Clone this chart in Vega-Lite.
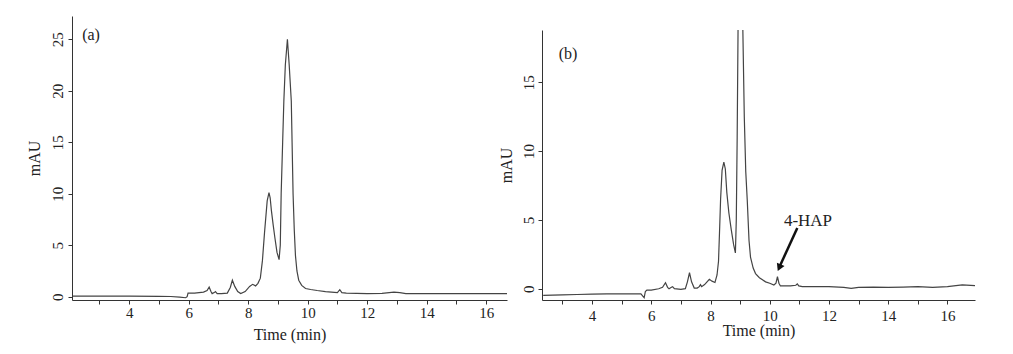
{
  "$schema": "https://vega.github.io/schema/vega-lite/v6.json",
  "background": "white",
  "padding": {"left": 25, "top": 16, "right": 5, "bottom": 5},
  "spacing": -9,
  "config": {
    "view": {"stroke": null},
    "font": "Liberation Serif",
    "axis": {
      "grid": false,
      "domainColor": "#333333",
      "tickColor": "#333333",
      "labelColor": "#222222",
      "titleColor": "#222222",
      "labelFont": "Liberation Serif",
      "titleFont": "Liberation Serif",
      "labelFontSize": 15,
      "titleFontSize": 16,
      "titleFontWeight": "normal",
      "tickSize": 4,
      "labelFlush": false
    }
  },
  "datasets": {
    "a": [
      {"t": 2.1, "v": 0.05}, {"t": 3.0, "v": 0.05}, {"t": 4.0, "v": 0.05}, {"t": 5.0, "v": 0.04},
      {"t": 5.4, "v": 0.02}, {"t": 5.7, "v": -0.05}, {"t": 5.9, "v": -0.1}, {"t": 5.95, "v": 0.0},
      {"t": 5.98, "v": 0.35}, {"t": 6.2, "v": 0.35}, {"t": 6.5, "v": 0.45}, {"t": 6.62, "v": 0.6},
      {"t": 6.69, "v": 0.94}, {"t": 6.75, "v": 0.5}, {"t": 6.79, "v": 0.3}, {"t": 6.86, "v": 0.4},
      {"t": 6.9, "v": 0.5}, {"t": 6.96, "v": 0.3}, {"t": 7.1, "v": 0.3}, {"t": 7.3, "v": 0.35},
      {"t": 7.4, "v": 0.9}, {"t": 7.47, "v": 1.6}, {"t": 7.55, "v": 1.0}, {"t": 7.65, "v": 0.5},
      {"t": 7.75, "v": 0.3}, {"t": 7.9, "v": 0.5}, {"t": 8.05, "v": 1.0}, {"t": 8.15, "v": 1.2},
      {"t": 8.25, "v": 1.05}, {"t": 8.33, "v": 1.3}, {"t": 8.41, "v": 1.8}, {"t": 8.48, "v": 3.5},
      {"t": 8.55, "v": 6.2}, {"t": 8.64, "v": 9.3}, {"t": 8.7, "v": 10.1}, {"t": 8.74, "v": 9.6},
      {"t": 8.78, "v": 8.4}, {"t": 8.84, "v": 7.0}, {"t": 8.9, "v": 5.7}, {"t": 8.97, "v": 4.3},
      {"t": 9.04, "v": 3.6}, {"t": 9.08, "v": 5.0}, {"t": 9.11, "v": 10.0}, {"t": 9.16, "v": 15.0},
      {"t": 9.2, "v": 19.0}, {"t": 9.25, "v": 22.5}, {"t": 9.32, "v": 25.0}, {"t": 9.38, "v": 22.5},
      {"t": 9.45, "v": 19.0}, {"t": 9.48, "v": 14.5}, {"t": 9.51, "v": 10.0}, {"t": 9.55, "v": 6.5},
      {"t": 9.59, "v": 4.0}, {"t": 9.64, "v": 2.5}, {"t": 9.7, "v": 1.6}, {"t": 9.8, "v": 1.1},
      {"t": 9.93, "v": 0.8}, {"t": 10.1, "v": 0.7}, {"t": 10.32, "v": 0.6}, {"t": 10.6, "v": 0.5},
      {"t": 10.8, "v": 0.45}, {"t": 11.0, "v": 0.4}, {"t": 11.08, "v": 0.68}, {"t": 11.15, "v": 0.4},
      {"t": 11.3, "v": 0.35}, {"t": 12.0, "v": 0.3}, {"t": 12.5, "v": 0.32}, {"t": 12.9, "v": 0.45},
      {"t": 13.1, "v": 0.4}, {"t": 13.3, "v": 0.3}, {"t": 14.0, "v": 0.3}, {"t": 15.0, "v": 0.3},
      {"t": 16.0, "v": 0.3}, {"t": 16.7, "v": 0.3}
    ],
    "b": [
      {"t": 2.35, "v": -0.48}, {"t": 3.0, "v": -0.45}, {"t": 3.5, "v": -0.42}, {"t": 4.0, "v": -0.4},
      {"t": 4.5, "v": -0.38}, {"t": 5.0, "v": -0.38}, {"t": 5.5, "v": -0.38}, {"t": 5.65, "v": -0.38},
      {"t": 5.72, "v": -0.55}, {"t": 5.76, "v": -0.65}, {"t": 5.8, "v": -0.2}, {"t": 5.85, "v": -0.1},
      {"t": 6.0, "v": -0.1}, {"t": 6.25, "v": 0.0}, {"t": 6.38, "v": 0.1}, {"t": 6.48, "v": 0.44},
      {"t": 6.55, "v": 0.1}, {"t": 6.6, "v": 0.0}, {"t": 6.68, "v": 0.1}, {"t": 6.72, "v": 0.15},
      {"t": 6.78, "v": 0.0}, {"t": 7.0, "v": -0.05}, {"t": 7.15, "v": 0.0}, {"t": 7.22, "v": 0.5},
      {"t": 7.29, "v": 1.16}, {"t": 7.36, "v": 0.5}, {"t": 7.45, "v": 0.05}, {"t": 7.55, "v": 0.05},
      {"t": 7.62, "v": 0.15}, {"t": 7.66, "v": 0.3}, {"t": 7.7, "v": 0.15}, {"t": 7.8, "v": 0.3},
      {"t": 7.96, "v": 0.68}, {"t": 8.05, "v": 0.55}, {"t": 8.15, "v": 0.45}, {"t": 8.22, "v": 1.0},
      {"t": 8.27, "v": 2.0}, {"t": 8.31, "v": 4.5}, {"t": 8.34, "v": 6.5}, {"t": 8.39, "v": 8.6},
      {"t": 8.45, "v": 9.2}, {"t": 8.5, "v": 8.7}, {"t": 8.55, "v": 7.0}, {"t": 8.62, "v": 5.5},
      {"t": 8.7, "v": 4.3}, {"t": 8.78, "v": 3.2}, {"t": 8.84, "v": 2.6}, {"t": 8.87, "v": 5.0},
      {"t": 8.9, "v": 11.0}, {"t": 8.93, "v": 19.0}, {"t": 8.98, "v": 24.0}, {"t": 9.04, "v": 23.0},
      {"t": 9.09, "v": 19.0}, {"t": 9.14, "v": 12.5}, {"t": 9.19, "v": 8.5}, {"t": 9.24, "v": 6.45},
      {"t": 9.3, "v": 3.5}, {"t": 9.35, "v": 2.3}, {"t": 9.44, "v": 1.5}, {"t": 9.52, "v": 1.1},
      {"t": 9.65, "v": 0.8}, {"t": 9.86, "v": 0.5}, {"t": 10.0, "v": 0.4}, {"t": 10.14, "v": 0.27},
      {"t": 10.21, "v": 0.4}, {"t": 10.26, "v": 0.87}, {"t": 10.31, "v": 0.4}, {"t": 10.36, "v": 0.2},
      {"t": 10.5, "v": 0.2}, {"t": 10.7, "v": 0.2}, {"t": 10.88, "v": 0.25}, {"t": 10.93, "v": 0.35},
      {"t": 10.98, "v": 0.2}, {"t": 11.1, "v": 0.15}, {"t": 11.5, "v": 0.15}, {"t": 12.0, "v": 0.15},
      {"t": 12.5, "v": 0.1}, {"t": 12.75, "v": 0.03}, {"t": 13.0, "v": 0.1}, {"t": 13.5, "v": 0.12},
      {"t": 14.0, "v": 0.1}, {"t": 14.5, "v": 0.12}, {"t": 15.0, "v": 0.15}, {"t": 15.5, "v": 0.1},
      {"t": 16.0, "v": 0.15}, {"t": 16.5, "v": 0.28}, {"t": 16.93, "v": 0.22}
    ]
  },
  "hconcat": [
    {
      "width": 435,
      "height": 284,
      "encoding": {
        "x": {
          "field": "t", "type": "quantitative",
          "scale": {"domain": [2.08, 16.7], "nice": false, "zero": false},
          "axis": {
            "title": "Time (min)",
            "values": [3, 4, 5, 6, 7, 8, 9, 10, 11, 12, 13, 14, 15, 16],
            "labelExpr": "datum.value % 2 === 0 ? datum.label : ''",
            "labelPadding": 1, "titlePadding": 6
          }
        },
        "y": {
          "field": "v", "type": "quantitative",
          "scale": {"domain": [-0.32, 27.25], "nice": false, "zero": false},
          "axis": {
            "title": "mAU",
            "values": [0, 5, 10, 15, 20, 25],
            "labelAngle": -90,
            "labelPadding": 3, "titlePadding": 8
          }
        }
      },
      "layer": [
        {
          "data": {"name": "a"},
          "mark": {"type": "line", "color": "#444444", "strokeWidth": 1.2, "clip": true}
        },
        {
          "data": {"values": [{"t": 2.72, "v": 25.4, "label": "(a)"}]},
          "mark": {"type": "text", "fontSize": 16, "color": "#222222", "baseline": "middle", "align": "center"},
          "encoding": {"text": {"field": "label"}}
        }
      ]
    },
    {
      "spacing": 0,
      "vconcat": [
        {
          "width": 433,
          "height": 14,
          "data": {"values": []},
          "mark": {"type": "point", "opacity": 0}
        },
        {
          "width": 433,
          "height": 270,
          "encoding": {
            "x": {
              "field": "t", "type": "quantitative",
              "scale": {"domain": [2.31, 16.93], "nice": false, "zero": false},
              "axis": {
                "title": "Time (min)",
                "values": [3, 4, 5, 6, 7, 8, 9, 10, 11, 12, 13, 14, 15, 16],
                "labelExpr": "datum.value % 2 === 0 ? datum.label : ''",
                "labelPadding": 4, "titlePadding": -1
              }
            },
            "y": {
              "field": "v", "type": "quantitative",
              "scale": {"domain": [-0.82, 18.8], "nice": false, "zero": false},
              "axis": {
                "title": "mAU",
                "values": [0, 5, 10, 15],
                "labelAngle": -90,
                "labelPadding": 2, "titlePadding": 7
              }
            }
          },
          "layer": [
            {
              "data": {"name": "b"},
              "mark": {"type": "line", "color": "#444444", "strokeWidth": 1.2, "clip": true}
            },
            {
              "data": {"values": [{"t": 3.19, "v": 17.07, "label": "(b)"}]},
              "mark": {"type": "text", "fontSize": 16, "color": "#222222", "baseline": "middle", "align": "center"},
              "encoding": {"text": {"field": "label"}}
            },
            {
              "data": {"values": [{"t": 11.29, "v": 4.92, "label": "4-HAP"}]},
              "mark": {"type": "text", "fontSize": 17, "color": "#222222", "baseline": "middle", "align": "center"},
              "encoding": {"text": {"field": "label"}}
            },
            {
              "data": {"values": [{"t": 10.93, "v": 4.41, "t2": 10.33, "v2": 1.6}]},
              "mark": {"type": "rule", "color": "#111111", "strokeWidth": 2.5},
              "encoding": {"x2": {"field": "t2"}, "y2": {"field": "v2"}}
            },
            {
              "data": {"values": [{"t": 10.32, "v": 1.53}]},
              "mark": {"type": "point", "shape": "triangle-up", "angle": 204, "size": 70, "filled": true, "color": "#111111", "opacity": 1}
            }
          ]
        }
      ]
    }
  ]
}
